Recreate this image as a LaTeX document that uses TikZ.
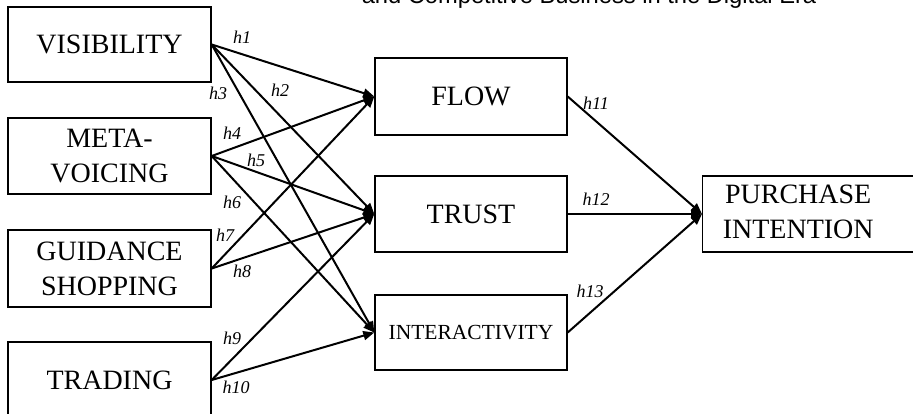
\documentclass[tikz,border=0pt]{standalone}
\usepackage{fontspec}
\setmainfont{Liberation Serif}
\newfontfamily\titlefont{Liberation Sans}
\usetikzlibrary{arrows.meta}
\tikzset{
  box/.style={draw, line width=1.4pt, rectangle, inner sep=0pt, align=center,
    font=\fontsize{28}{35}\selectfont},
  link/.style={line width=2pt, -{Triangle[length=11pt,width=9pt]}},
  hlab/.style={inner sep=0pt, font=\fontsize{18}{20}\selectfont\itshape},
}
\begin{document}
\begin{tikzpicture}[x=1pt,y=-1pt]
\useasboundingbox (0,0) rectangle (913,414);
\clip (0,0) rectangle (913,414);
\node[anchor=base, inner sep=0pt, font=\titlefont\fontsize{23.7}{26}\selectfont] (title) at (589,3.5) {and Competitive Business in the Digital Era};
% left boxes
\node[box, minimum width=203pt, minimum height=75pt] (vis) at (109.5,44.5) {VISIBILITY};
\node[box, minimum width=203pt, minimum height=76pt] (meta) at (109.5,156) {META-\\VOICING};
\node[box, minimum width=203pt, minimum height=77pt] (guid) at (109.5,268.5) {GUIDANCE\\SHOPPING};
\node[box, minimum width=203pt, minimum height=76pt] (trad) at (109.5,380) {TRADING};
% middle boxes
\node[box, minimum width=192pt, minimum height=77pt] (flow) at (471,96.5) {FLOW};
\node[box, minimum width=192pt, minimum height=76pt] (trust) at (471,214) {TRUST};
\node[box, minimum width=192pt, minimum height=75pt, font=\fontsize{21.5}{25}\selectfont] (inter) at (471,332.5) {INTERACTIVITY};
% right box
\node[box, anchor=west, minimum height=76pt] (pi) at (702,214) {\makebox[191pt]{\begin{tabular}{@{}c@{}}PURCHASE\\INTENTION\end{tabular}}\hspace*{30pt}};
% connectors
\draw[link] (vis.east) -- (flow.west);
\draw[link] (vis.east) -- (trust.west);
\draw[link] (vis.east) -- (inter.west);
\draw[link] (meta.east) -- (flow.west);
\draw[link] (meta.east) -- (trust.west);
\draw[link] (meta.east) -- (inter.west);
\draw[link] (guid.east) -- (flow.west);
\draw[link] (guid.east) -- (trust.west);
\draw[link] (trad.east) -- (trust.west);
\draw[link] (trad.east) -- (inter.west);
\draw[link] (flow.east) -- (pi.west);
\draw[link] (trust.east) -- (pi.west);
\draw[link] (inter.east) -- (pi.west);
% labels
\node[hlab] (l1) at (242,37) {h1};
\node[hlab] (l2) at (280,90) {h2};
\node[hlab] (l3) at (218,93) {h3};
\node[hlab] (l4) at (232,133) {h4};
\node[hlab] (l5) at (256,160) {h5};
\node[hlab] (l6) at (232,202) {h6};
\node[hlab] (l7) at (225,235) {h7};
\node[hlab] (l8) at (242,271) {h8};
\node[hlab] (l9) at (232,338) {h9};
\node[hlab] (l10) at (236,387) {h10};
\node[hlab] (l11) at (596,103) {h11};
\node[hlab] (l12) at (596,199) {h12};
\node[hlab] (l13) at (590,291) {h13};
\end{tikzpicture}
\end{document}
